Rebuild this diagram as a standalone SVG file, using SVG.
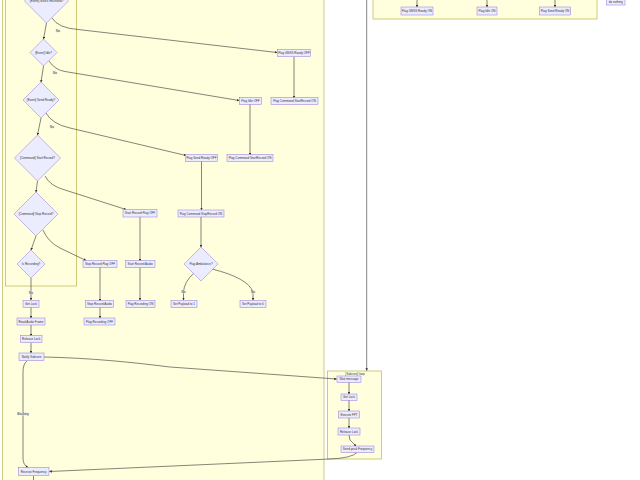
<svg xmlns="http://www.w3.org/2000/svg" width="640" height="480" viewBox="0 0 640 480">
<defs>
<marker id="ah" viewBox="0 0 10 10" refX="9" refY="5" markerUnits="userSpaceOnUse" markerWidth="2.6" markerHeight="2.6" orient="auto"><path d="M0,0 L10,5 L0,10 z" fill="#333"/></marker>
<style>
.cl{fill:#ffffde;stroke:#aaaa33;stroke-width:0.6}
.nd{fill:#ECECFF;stroke:#9370DB;stroke-width:0.5}
.t{font-family:"Liberation Sans",Arial,sans-serif;font-size:3px;fill:#333;text-anchor:middle;dominant-baseline:central}
.e{fill:none;stroke:#333;stroke-width:0.6;marker-end:url(#ah)}
.lb{fill:#e8e8e8;opacity:0.8}
</style>
</defs>
<rect width="640" height="480" fill="#ffffff"/>
<g id="clusters">
<rect class="cl" x="2.5" y="-10" width="321.5" height="500"/>
<rect class="cl" x="5.5" y="-10" width="71" height="296"/>
<rect class="cl" x="373" y="-10" width="224" height="29"/>
<rect class="cl" x="327.5" y="371" width="54" height="88"/>
<text class="t" x="355" y="374">[Subcore] loop</text>
</g>
<g id="connectors">
<path class="e" d="M46.5,23 L43.5,39"/>
<path class="e" d="M43.5,66 L41,82"/>
<path class="e" d="M41,118 L37.5,135"/>
<path class="e" d="M37.5,181 L36,192"/>
<path class="e" d="M36,236 L31,250"/>
<path class="e" d="M52,18 Q58,28 78,29.5 L277,52.5"/>
<path class="e" d="M49,61 Q55,70 65,71.5 L239,100.5"/>
<path class="e" d="M46,113 Q52,124 70,128 L186,155.5"/>
<path class="e" d="M45,176 Q50,186 65,190 L126,209.5"/>
<path class="e" d="M43,230 Q48,242 60,248 L86,260.5"/>
<path class="e" d="M294,57 L294,98"/>
<path class="e" d="M250,104 L250,155"/>
<path class="e" d="M201.5,161 L201.5,210"/>
<path class="e" d="M201,217 L201,247"/>
<path class="e" d="M194,273 Q184,282 183.5,292 L183.5,300"/>
<path class="e" d="M212,269 Q248,278 253,292 L253,300"/>
<path class="e" d="M140,217 L140,261"/>
<path class="e" d="M140,267 L140,300"/>
<path class="e" d="M100,267 L100,301"/>
<path class="e" d="M100,307 L100,318"/>
<path class="e" d="M31,278 L31,300"/>
<path class="e" d="M31,307 L31,318"/>
<path class="e" d="M31,325 L31,336"/>
<path class="e" d="M31,343 L31,353"/>
<path class="e" d="M44,357 C90,358 130,362 170,367 L336.5,379"/>
<path class="e" d="M27,361 Q23,364 23,372 L23,458 Q23,465 28,467.5"/>
<path class="e" d="M357,452.5 Q352,458 330,459 L49.5,471.5"/>
<path d="M33.5,476 L33.5,481" fill="none" stroke="#333" stroke-width="0.6"/>
<path class="e" d="M366.7,-2 L366.7,370.5"/>
<path class="e" d="M349,382 L349,394"/>
<path class="e" d="M349,400 L349,411"/>
<path class="e" d="M349,418 L349,428"/>
<path class="e" d="M349,435 Q349,441 353,443 L356,446"/>
<path class="e" d="M417,-2 L417,7"/>
<path class="e" d="M487,-2 L487,7"/>
<path class="e" d="M555,-2 L555,7"/>
</g>
<g id="edge-labels">
<rect class="lb" x="55.5" y="29.5" width="5" height="3"/><text class="t" x="58" y="31">No</text>
<rect class="lb" x="52.5" y="71.5" width="5" height="3"/><text class="t" x="55" y="73">No</text>
<rect class="lb" x="49.5" y="125.5" width="5" height="3"/><text class="t" x="52" y="127">No</text>
<rect class="lb" x="28.5" y="291.5" width="5" height="3"/><text class="t" x="31" y="293">No</text>
<rect class="lb" x="181" y="290.5" width="5" height="3"/><text class="t" x="183.5" y="292">No</text>
<rect class="lb" x="250.5" y="290.5" width="5" height="3"/><text class="t" x="253" y="292">No</text>
<rect class="lb" x="17" y="412.5" width="12" height="3"/><text class="t" x="23" y="414">Blocking</text>
</g>
<g id="n-gnss-received"><polygon class="nd" points="46.5,-21 68.5,1 46.5,23 24.5,1"/><text class="t" x="46.5" y="1">[Event] GNSS Received?</text></g>
<g id="n-idle"><polygon class="nd" points="43.5,39 57,52.5 43.5,66 30,52.5"/><text class="t" x="43.5" y="52.5">[Event] Idle?</text></g>
<g id="n-send-ready"><polygon class="nd" points="41,82 59,100 41,118 23,100"/><text class="t" x="41" y="100">[Event] Send Ready?</text></g>
<g id="n-start-record"><polygon class="nd" points="37.5,135 60.5,158 37.5,181 14.5,158"/><text class="t" x="37.5" y="158">[Command] Start Record?</text></g>
<g id="n-stop-record"><polygon class="nd" points="36,192 58,214 36,236 14,214"/><text class="t" x="36" y="214">[Command] Stop Record?</text></g>
<g id="n-is-recording"><polygon class="nd" points="31,250 45,264 31,278 17,264"/><text class="t" x="31" y="264">Is Recording?</text></g>
<g id="n-flag-ambulance"><polygon class="nd" points="201,247 218,264 201,281 184,264"/><text class="t" x="201" y="264">Flag Ambulance?</text></g>
<g id="n-gnss-off"><rect class="nd" x="277.5" y="49.5" width="33" height="7"/><text class="t" x="294" y="53">Flag GNSS Ready OFF</text></g>
<g id="n-cmd-start-on-1"><rect class="nd" x="271" y="97.5" width="47" height="7"/><text class="t" x="294.5" y="101">Flag Command StartRecord ON</text></g>
<g id="n-idle-off"><rect class="nd" x="239.5" y="97.5" width="22" height="7"/><text class="t" x="250.5" y="101">Flag Idle OFF</text></g>
<g id="n-cmd-start-on-2"><rect class="nd" x="227" y="154.5" width="46" height="7"/><text class="t" x="250" y="158">Flag Command StartRecord ON</text></g>
<g id="n-send-ready-off"><rect class="nd" x="185.5" y="154.5" width="32" height="7"/><text class="t" x="201.5" y="158">Flag Send Ready OFF</text></g>
<g id="n-cmd-stop-on"><rect class="nd" x="178" y="210" width="46" height="7"/><text class="t" x="201" y="213.5">Flag Command StopRecord ON</text></g>
<g id="n-start-flag-off"><rect class="nd" x="123" y="209.5" width="34" height="7.5"/><text class="t" x="140" y="213.2">Start Record Flag OFF</text></g>
<g id="n-start-audio"><rect class="nd" x="125.5" y="260.5" width="29.5" height="7"/><text class="t" x="140.2" y="264">Start Record Audio</text></g>
<g id="n-rec-on"><rect class="nd" x="126" y="300.5" width="29" height="7"/><text class="t" x="140.5" y="304">Flag Recording ON</text></g>
<g id="n-stop-flag-off"><rect class="nd" x="83" y="260.5" width="34" height="7"/><text class="t" x="100" y="264">Stop Record Flag OFF</text></g>
<g id="n-stop-audio"><rect class="nd" x="85.5" y="300.5" width="28" height="7"/><text class="t" x="99.5" y="304">Stop Record Audio</text></g>
<g id="n-rec-off"><rect class="nd" x="84" y="318" width="31" height="7"/><text class="t" x="99.5" y="321.5">Flag Recording OFF</text></g>
<g id="n-payload-1"><rect class="nd" x="171" y="300.5" width="26" height="7"/><text class="t" x="184" y="304">Set Payload to 1</text></g>
<g id="n-payload-0"><rect class="nd" x="240" y="300.5" width="26" height="7"/><text class="t" x="253" y="304">Set Payload to 0</text></g>
<g id="n-get-lock"><rect class="nd" x="23" y="300.5" width="16" height="7"/><text class="t" x="31" y="304">Get Lock</text></g>
<g id="n-read-audio"><rect class="nd" x="17" y="318" width="28" height="7"/><text class="t" x="31" y="321.5">Read Audio Frame</text></g>
<g id="n-release-lock"><rect class="nd" x="20.5" y="335.5" width="21.5" height="7"/><text class="t" x="31.2" y="339">Release Lock</text></g>
<g id="n-notify"><rect class="nd" x="19" y="353" width="25" height="7.5"/><text class="t" x="31.5" y="356.8">Notify Subcore</text></g>
<g id="n-receive-freq"><rect class="nd" x="18.5" y="467.5" width="30.5" height="8"/><text class="t" x="33.7" y="471.5">Receive Frequency</text></g>
<g id="n-wait"><rect class="nd" x="337" y="376" width="24" height="6.5"/><text class="t" x="349" y="379.2">Wait message</text></g>
<g id="n-sub-get-lock"><rect class="nd" x="341" y="394" width="16" height="6.5"/><text class="t" x="349" y="397.2">Get Lock</text></g>
<g id="n-fft"><rect class="nd" x="338.5" y="411" width="21" height="7"/><text class="t" x="349" y="414.5">Execute FFT</text></g>
<g id="n-sub-release"><rect class="nd" x="338" y="428" width="22" height="7"/><text class="t" x="349" y="431.5">Release Lock</text></g>
<g id="n-send-peak"><rect class="nd" x="341" y="446" width="33" height="6.5"/><text class="t" x="357.5" y="449.2">Send peak Frequency</text></g>
<g id="n-gnss-on"><rect class="nd" x="401" y="7" width="32" height="8"/><text class="t" x="417" y="11">Flag GNSS Ready ON</text></g>
<g id="n-idle-on"><rect class="nd" x="477" y="7" width="20" height="8"/><text class="t" x="487" y="11">Flag Idle ON</text></g>
<g id="n-send-ready-on"><rect class="nd" x="539.5" y="7" width="31" height="8"/><text class="t" x="555" y="11">Flag Send Ready ON</text></g>
<g id="n-do-nothing"><rect class="nd" x="606.5" y="-3" width="18.5" height="8"/><text class="t" x="615.7" y="1.5">do nothing</text></g>
</svg>
